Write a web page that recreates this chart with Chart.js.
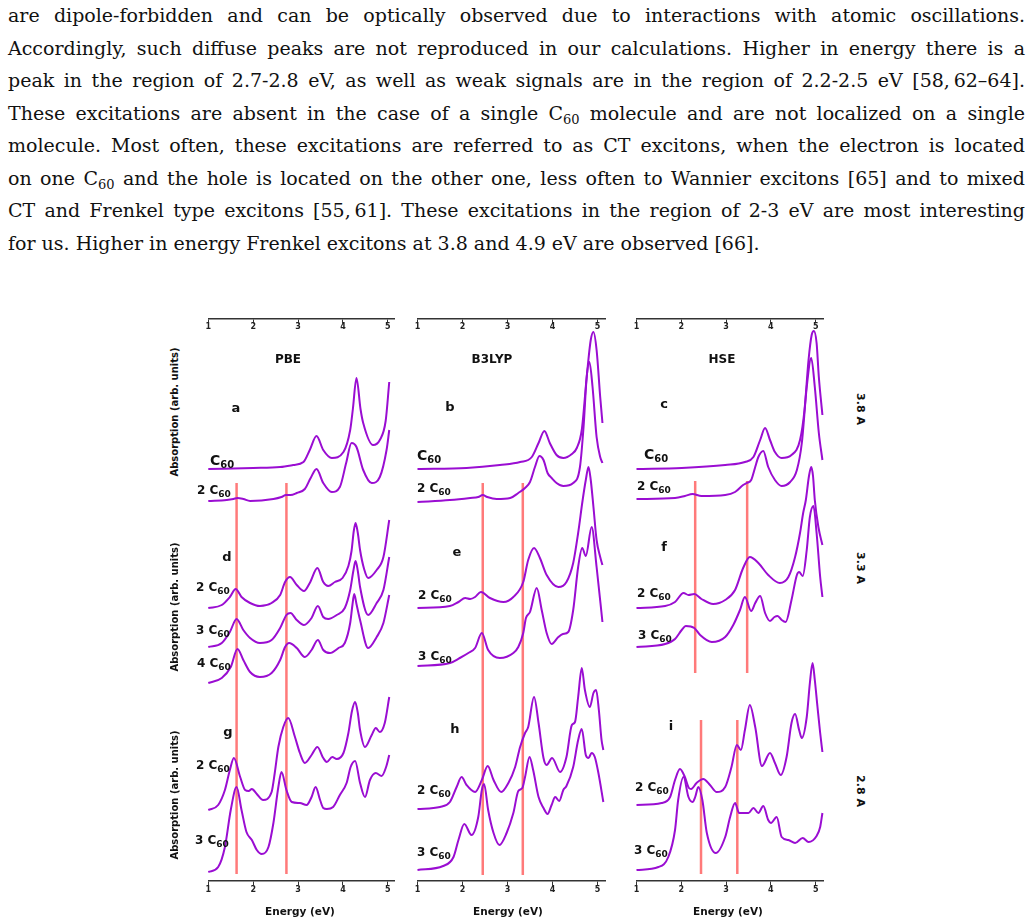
<!DOCTYPE html>
<html lang="en">
<head>
<meta charset="UTF-8">
<title>C60 absorption spectra – PBE, B3LYP, HSE</title>
<script src="https://cdn.jsdelivr.net/npm/chart.js@4"></script>
<style>
  html, body { margin: 0; padding: 0; background: #fff; }
  body { position: relative; width: 1033px; height: 924px; overflow: hidden; }
  .text { position: absolute; left: 8px; top: -1px; width: 1017px;
          font-family: 'DejaVu Serif', 'Liberation Serif', serif; font-size: 19px; line-height: 32.5px; color: #111; }
  .text div { text-align: justify; text-align-last: justify; }
  .text div.last { text-align-last: left; }
  .text sub { font-size: 13px; line-height: 0; vertical-align: -4px; }
  .col { position: absolute; top: 300px; }
  .lbl { position: absolute; font-family: 'DejaVu Sans', sans-serif; font-weight: bold; color: #111;
         white-space: nowrap; line-height: 1; transform: translate(-50%, -50%); }
  .method { font-size: 12px; }
  .panel { font-size: 13px; }
  .curve { font-size: 12px; transform: translateY(-50%); }
  .curve.one { font-size: 14px; }
  .curve sub { font-size: 9px; line-height: 0; vertical-align: -3px; }
  .curve.one sub { font-size: 10px; }
  .ytitle { font-size: 10px; transform: translate(-50%, -50%) rotate(-90deg); }
  .rowlbl { font-size: 11px; transform: translate(-50%, -50%) rotate(90deg); }
  .xtitle { font-size: 10.5px; }
</style>
</head>
<body>
  <div class="text">
    <div>are dipole-forbidden and can be optically observed due to interactions with atomic oscillations.</div>
    <div>Accordingly, such diffuse peaks are not reproduced in our calculations. Higher in energy there is a</div>
    <div>peak in the region of 2.7-2.8 eV, as well as weak signals are in the region of 2.2-2.5 eV [58,&#8201;62–64].</div>
    <div>These excitations are absent in the case of a single C<sub>60</sub> molecule and are not localized on a single</div>
    <div>molecule. Most often, these excitations are referred to as CT excitons, when the electron is located</div>
    <div>on one C<sub>60</sub> and the hole is located on the other one, less often to Wannier excitons [65] and to mixed</div>
    <div>CT and Frenkel type excitons [55,&#8201;61]. These excitations in the region of 2-3 eV are most interesting</div>
    <div class="last">for us. Higher in energy Frenkel excitons at 3.8 and 4.9 eV are observed [66].</div>
  </div>

  <div class="col" style="left:198px"><canvas id="colPBE" width="210" height="624"></canvas></div>
  <div class="col" style="left:407px"><canvas id="colB3LYP" width="210" height="624"></canvas></div>
  <div class="col" style="left:626px"><canvas id="colHSE" width="210" height="624"></canvas></div>

  <!-- method titles -->
  <div class="lbl method" style="left:288px;top:359px">PBE</div>
  <div class="lbl method" style="left:492px;top:359px">B3LYP</div>
  <div class="lbl method" style="left:722px;top:359px">HSE</div>

  <!-- panel letters -->
  <div class="lbl panel" style="left:236px;top:407px">a</div>
  <div class="lbl panel" style="left:450px;top:406px">b</div>
  <div class="lbl panel" style="left:664px;top:403px">c</div>
  <div class="lbl panel" style="left:227px;top:556px">d</div>
  <div class="lbl panel" style="left:457px;top:551px">e</div>
  <div class="lbl panel" style="left:664px;top:546px">f</div>
  <div class="lbl panel" style="left:228px;top:731px">g</div>
  <div class="lbl panel" style="left:455px;top:728px">h</div>
  <div class="lbl panel" style="left:671px;top:725px">i</div>

  <!-- curve labels -->
  <div class="lbl curve one" style="left:210px;top:460px">C<sub>60</sub></div>
  <div class="lbl curve" style="left:197px;top:490px">2 C<sub>60</sub></div>
  <div class="lbl curve one" style="left:417px;top:455px">C<sub>60</sub></div>
  <div class="lbl curve" style="left:417px;top:488px">2 C<sub>60</sub></div>
  <div class="lbl curve one" style="left:644px;top:454px">C<sub>60</sub></div>
  <div class="lbl curve" style="left:637px;top:486px">2 C<sub>60</sub></div>

  <div class="lbl curve" style="left:196px;top:587px">2 C<sub>60</sub></div>
  <div class="lbl curve" style="left:196px;top:630px">3 C<sub>60</sub></div>
  <div class="lbl curve" style="left:197px;top:663px">4 C<sub>60</sub></div>
  <div class="lbl curve" style="left:418px;top:595px">2 C<sub>60</sub></div>
  <div class="lbl curve" style="left:418px;top:656px">3 C<sub>60</sub></div>
  <div class="lbl curve" style="left:637px;top:593px">2 C<sub>60</sub></div>
  <div class="lbl curve" style="left:638px;top:635px">3 C<sub>60</sub></div>

  <div class="lbl curve" style="left:196px;top:765px">2 C<sub>60</sub></div>
  <div class="lbl curve" style="left:195px;top:840px">3 C<sub>60</sub></div>
  <div class="lbl curve" style="left:417px;top:790px">2 C<sub>60</sub></div>
  <div class="lbl curve" style="left:417px;top:852px">3 C<sub>60</sub></div>
  <div class="lbl curve" style="left:635px;top:787px">2 C<sub>60</sub></div>
  <div class="lbl curve" style="left:634px;top:850px">3 C<sub>60</sub></div>

  <!-- axis titles -->
  <div class="lbl ytitle" style="left:175px;top:412px">Absorption (arb. units)</div>
  <div class="lbl ytitle" style="left:175px;top:607px">Absorption (arb. units)</div>
  <div class="lbl ytitle" style="left:175px;top:795px">Absorption (arb. units)</div>
  <div class="lbl xtitle" style="left:300px;top:911px">Energy (eV)</div>
  <div class="lbl xtitle" style="left:508px;top:911px">Energy (eV)</div>
  <div class="lbl xtitle" style="left:728px;top:911px">Energy (eV)</div>

  <!-- interlayer distance -->
  <div class="lbl rowlbl" style="left:860px;top:409px">3.8 A</div>
  <div class="lbl rowlbl" style="left:860px;top:568px">3.3 A</div>
  <div class="lbl rowlbl" style="left:860px;top:791px">2.8 A</div>

  <script>
    // energy axis
    const energyTicks = [1, 2, 3, 4, 5];

    // absorption spectra, [energy eV, absorption arb. units incl. vertical offset]
    // PBE
    const aC60  = [[1.00,412],[2.00,413],[2.60,414],[2.89,416],[3.12,419],[3.26,431],[3.41,445],[3.56,431],[3.75,423],[4.01,429],[4.16,451],[4.22,472],[4.30,503],[4.39,472],[4.45,458],[4.67,436],[4.82,441],[4.95,460],[5.03,499]];
    const a2C60 = [[1.00,380],[1.41,381],[1.56,382],[1.65,383],[1.78,382],[1.93,380],[2.45,382],[2.63,384],[2.73,386],[2.83,386],[2.97,388],[3.15,392],[3.28,403],[3.41,412],[3.56,398],[3.75,389],[3.93,394],[4.07,418],[4.19,438],[4.30,434],[4.45,411],[4.64,398],[4.82,404],[4.97,431],[5.03,451]];
    const d2C60 = [[1.00,273],[1.30,276],[1.48,284],[1.61,292],[1.74,284],[1.93,278],[2.15,275],[2.41,278],[2.60,286],[2.71,299],[2.82,304],[2.97,296],[3.13,290],[3.26,298],[3.43,313],[3.56,299],[3.67,295],[3.82,299],[3.99,303],[4.12,315],[4.19,330],[4.24,350],[4.28,358],[4.33,348],[4.38,331],[4.47,312],[4.56,303],[4.75,311],[4.90,324],[5.03,361]];
    const d3C60 = [[1.00,234],[1.30,238],[1.48,249],[1.63,262],[1.78,251],[1.93,243],[2.15,238],[2.41,241],[2.60,253],[2.74,266],[2.83,268],[2.97,261],[3.13,256],[3.30,263],[3.44,275],[3.56,264],[3.67,262],[3.86,266],[4.04,273],[4.16,291],[4.23,310],[4.28,320],[4.33,310],[4.38,294],[4.56,266],[4.75,278],[4.90,291],[5.03,324]];
    const d4C60 = [[1.00,198],[1.30,203],[1.50,214],[1.65,232],[1.78,221],[1.93,209],[2.15,204],[2.41,208],[2.60,221],[2.71,234],[2.80,238],[2.97,233],[3.15,224],[3.30,231],[3.44,241],[3.56,231],[3.71,228],[3.90,233],[4.04,238],[4.16,258],[4.21,276],[4.25,287],[4.30,277],[4.38,261],[4.56,233],[4.75,244],[4.90,258],[5.03,286]];
    const g2C60 = [[1.00,71],[1.22,76],[1.37,91],[1.48,111],[1.57,123],[1.71,104],[1.82,91],[1.90,90],[1.97,92],[2.08,87],[2.22,81],[2.41,89],[2.48,108],[2.56,134],[2.67,154],[2.78,163],[2.93,144],[3.04,128],[3.15,118],[3.30,126],[3.43,134],[3.56,123],[3.64,119],[3.76,124],[3.86,122],[4.01,128],[4.12,148],[4.20,170],[4.27,179],[4.33,168],[4.38,151],[4.49,134],[4.64,146],[4.73,153],[4.82,149],[4.93,158],[5.03,184]];
    const g3C60 = [[1.00,9],[1.22,14],[1.37,34],[1.50,71],[1.63,94],[1.74,71],[1.85,49],[1.97,41],[2.08,31],[2.19,27],[2.34,34],[2.45,58],[2.56,94],[2.63,109],[2.74,91],[2.86,79],[3.04,78],[3.19,76],[3.30,84],[3.39,94],[3.49,81],[3.56,73],[3.64,72],[3.78,74],[3.93,86],[4.08,98],[4.17,114],[4.27,120],[4.38,98],[4.49,84],[4.60,101],[4.73,108],[4.86,105],[4.96,114],[5.03,126]];
    // B3LYP
    const bC60  = [[1.00,412],[2.09,413],[2.83,416],[3.28,419],[3.54,424],[3.69,438],[3.82,450],[3.94,438],[4.09,426],[4.24,423],[4.43,427],[4.54,433],[4.65,451],[4.76,504],[4.85,541],[4.91,549],[4.98,531],[5.06,484],[5.11,458]];
    const b2C60 = [[1.00,379],[1.72,381],[2.17,383],[2.35,384],[2.45,386],[2.55,384],[2.76,382],[3.06,383],[3.24,388],[3.39,393],[3.50,399],[3.61,414],[3.71,425],[3.80,421],[3.89,408],[3.98,403],[4.09,398],[4.24,395],[4.46,398],[4.61,414],[4.69,454],[4.76,504],[4.82,519],[4.89,494],[4.98,444],[5.06,424],[5.11,418]];
    const e2C60 = [[1.00,273],[1.72,275],[1.91,279],[2.06,283],[2.17,282],[2.28,284],[2.41,289],[2.61,283],[2.91,279],[3.13,284],[3.35,299],[3.46,321],[3.59,333],[3.72,323],[3.87,306],[4.13,294],[4.31,299],[4.46,318],[4.57,348],[4.67,381],[4.74,401],[4.80,414],[4.85,401],[4.91,374],[4.98,341],[5.06,324],[5.11,316]];
    const e3C60 = [[1.00,215],[1.72,218],[1.94,223],[2.13,228],[2.28,233],[2.43,248],[2.57,231],[2.83,223],[3.13,228],[3.24,234],[3.35,248],[3.41,263],[3.50,269],[3.65,293],[3.76,271],[3.87,248],[3.98,237],[4.13,244],[4.23,247],[4.35,249],[4.46,271],[4.57,314],[4.66,333],[4.74,325],[4.87,354],[4.98,314],[5.11,259]];
    const h2C60 = [[1.00,72],[1.50,74],[1.72,79],[1.87,94],[1.98,104],[2.09,96],[2.28,89],[2.43,101],[2.56,115],[2.69,101],[2.86,89],[3.02,98],[3.17,114],[3.28,134],[3.39,148],[3.46,154],[3.59,184],[3.69,158],[3.80,123],[3.87,116],[3.99,123],[4.17,109],[4.31,124],[4.43,156],[4.50,159],[4.57,184],[4.65,213],[4.72,191],[4.83,174],[4.91,188],[4.97,191],[5.03,171],[5.09,141],[5.13,131]];
    const h3C60 = [[1.00,11],[1.57,15],[1.80,24],[1.91,41],[2.04,57],[2.20,46],[2.35,64],[2.43,91],[2.48,97],[2.57,71],[2.69,48],[2.82,36],[2.98,48],[3.13,68],[3.24,90],[3.33,93],[3.39,104],[3.49,124],[3.57,111],[3.69,84],[3.80,73],[3.89,67],[3.98,76],[4.06,84],[4.15,80],[4.24,91],[4.31,95],[4.46,114],[4.57,141],[4.65,152],[4.74,126],[4.80,123],[4.87,128],[4.94,124],[5.02,108],[5.13,79]];
    // HSE
    const cC60  = [[1.00,412],[2.01,413],[2.98,416],[3.42,419],[3.61,424],[3.76,441],[3.87,453],[3.98,441],[4.09,429],[4.24,423],[4.46,426],[4.65,441],[4.75,471],[4.84,521],[4.91,546],[4.96,550],[5.02,538],[5.07,504],[5.15,466]];
    const c2C60 = [[1.00,382],[1.86,383],[2.08,385],[2.25,387],[2.45,385],[2.98,386],[3.20,389],[3.38,396],[3.46,398],[3.56,401],[3.65,414],[3.72,424],[3.83,430],[3.94,414],[4.09,401],[4.24,395],[4.43,399],[4.58,411],[4.69,438],[4.80,494],[4.90,523],[4.98,494],[5.07,448],[5.15,421]];
    const f2C60 = [[1.00,273],[1.64,275],[1.86,279],[2.05,288],[2.16,286],[2.29,287],[2.45,282],[2.71,277],[2.98,281],[3.20,291],[3.38,313],[3.53,324],[3.72,318],[3.94,306],[4.20,298],[4.39,304],[4.54,324],[4.65,348],[4.72,368],[4.78,381],[4.85,405],[4.90,414],[4.94,405],[4.98,381],[5.06,354],[5.15,336]];
    const f3C60 = [[1.00,234],[1.64,237],[1.86,242],[2.01,251],[2.10,255],[2.29,253],[2.42,246],[2.68,239],[2.98,244],[3.16,256],[3.31,271],[3.42,284],[3.56,270],[3.65,278],[3.76,285],[3.87,268],[3.98,260],[4.08,264],[4.15,265],[4.24,261],[4.33,259],[4.46,281],[4.58,306],[4.63,309],[4.71,305],[4.80,331],[4.87,364],[4.95,375],[5.02,348],[5.10,304],[5.15,284]];
    const i2C60 = [[1.00,76],[1.56,78],[1.75,84],[1.86,101],[1.97,112],[2.08,104],[2.17,93],[2.22,92],[2.34,98],[2.49,102],[2.64,96],[2.79,89],[2.98,94],[3.12,114],[3.24,136],[3.33,131],[3.42,151],[3.53,176],[3.65,154],[3.80,115],[3.98,128],[4.09,118],[4.22,106],[4.35,124],[4.46,158],[4.54,167],[4.63,151],[4.69,143],[4.80,164],[4.87,198],[4.93,218],[4.98,201],[5.04,174],[5.10,148],[5.15,129]];
    const i3C60 = [[1.00,11],[1.49,14],[1.71,24],[1.86,51],[1.93,81],[2.05,104],[2.16,84],[2.25,79],[2.31,84],[2.38,94],[2.47,81],[2.57,48],[2.77,28],[2.98,44],[3.09,64],[3.20,78],[3.29,68],[3.42,68],[3.50,68],[3.61,73],[3.72,68],[3.83,75],[3.94,61],[4.00,58],[4.13,64],[4.24,44],[4.39,41],[4.54,38],[4.71,43],[4.84,39],[5.02,45],[5.10,54],[5.15,68]];

    // CT exciton markers: energies (eV) and vertical extent (arb. units)
    const pbeMarks = [1.63, 2.74];
    const pbeSpan = [7, 398];
    const b3lypMarks = [2.45, 3.34];
    const b3lypSpan = [6, 398];
    const hseMarks = [2.31, 3.47];
    const hseSpan = [208, 400];
    const hseMarks28 = [2.44, 3.25];
    const hseSpan28 = [7, 161];

    const yTop = 562.5;            // absorption value at the top axis line
    const purple = '#9a0dd2';
    const salmon = 'rgba(255, 108, 108, 0.9)';

    function curveSet(points) {
      return {
        data: points.map(p => ({ x: p[0], y: p[1] })),
        borderColor: purple, borderWidth: 2, pointRadius: 0,
        cubicInterpolationMode: 'monotone', fill: false, clip: false
      };
    }

    function markSets(energies, span) {
      return energies.map(e => ({
        data: [{ x: e, y: span[0] }, { x: e, y: span[1] }],
        borderColor: salmon, borderWidth: 2.5, pointRadius: 0, fill: false, clip: false
      }));
    }

    function energyAxis(yPos, xmax) {
      return {
        type: 'linear', min: 1, max: xmax, position: { y: yPos },
        afterBuildTicks: s => { s.ticks = energyTicks.map(v => ({ value: v })); },
        ticks: { color: '#222', padding: 0, maxRotation: 0,
                 font: { family: 'DejaVu Sans', size: 8, weight: 'bold' } },
        grid: { drawOnChartArea: false, drawTicks: true, tickLength: 4, tickColor: '#333', tickWidth: 1 },
        border: { display: true, color: '#333', width: 1.5 }
      };
    }

    // frame: canvas left, x pixel of E=1, pixels per eV, axis end
    function makeColumn(id, frame, curves, marks) {
      const canvas = document.getElementById(id);
      const right = frame.x1 + (frame.xmax - 1) * frame.ppu;
      new Chart(canvas.getContext('2d'), {
        type: 'line',
        data: { datasets: curves.map(curveSet).concat(marks) },
        options: {
          responsive: false, animation: false, devicePixelRatio: 1,
          layout: { padding: { left: frame.x1 - frame.left, right: frame.left + canvas.width - right, top: 18.5, bottom: 43 } },
          plugins: { legend: { display: false }, tooltip: { enabled: false } },
          scales: {
            x: energyAxis(0, frame.xmax),
            xTop: energyAxis(yTop, frame.xmax),
            y: { type: 'linear', min: 0, max: yTop, display: false }
          }
        }
      });
    }

    makeColumn('colPBE', { left: 198, x1: 208.3, ppu: 44.9, xmax: 5.15 },
      [aC60, a2C60, d2C60, d3C60, d4C60, g2C60, g3C60],
      markSets(pbeMarks, pbeSpan));
    makeColumn('colB3LYP', { left: 407, x1: 417.5, ppu: 45.0, xmax: 5.17 },
      [bC60, b2C60, e2C60, e3C60, h2C60, h3C60],
      markSets(b3lypMarks, b3lypSpan));
    makeColumn('colHSE', { left: 626, x1: 636.5, ppu: 44.8, xmax: 5.18 },
      [cC60, c2C60, f2C60, f3C60, i2C60, i3C60],
      markSets(hseMarks, hseSpan).concat(markSets(hseMarks28, hseSpan28)));
  </script>
</body>
</html>
